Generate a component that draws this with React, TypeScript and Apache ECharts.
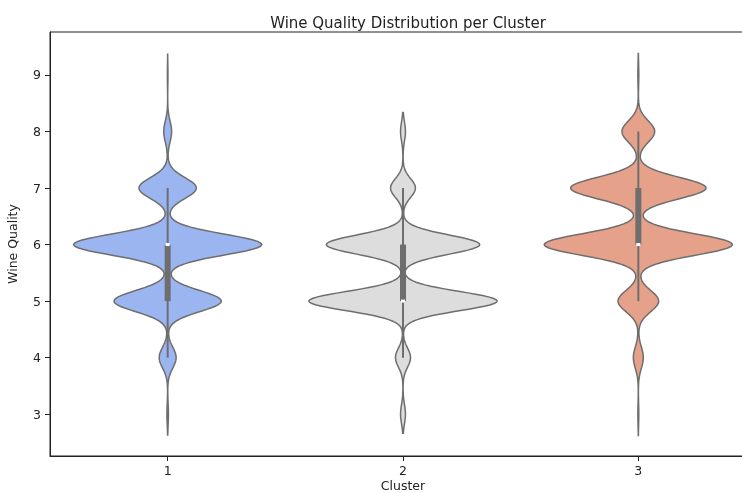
import React, { useEffect, useRef } from "react";
import * as echarts from "echarts";

// Cluster categories and wine counts per quality level (3..9)
const clusters = ["1", "2", "3"];
const qualityLevels = [3, 4, 5, 6, 7, 8, 9];
const cluster1Counts = [8, 90, 570, 1000, 305, 42, 3];
const cluster2Counts = [26, 80, 1000, 815, 132, 26, 0];
const cluster3Counts = [5, 53, 216, 1000, 720, 174, 5];
const yTickValues = [3, 4, 5, 6, 7, 8, 9];
const fillColors = ["#9bb5f0", "#dddddd", "#e5a18a"];

const countsByCluster = [cluster1Counts, cluster2Counts, cluster3Counts];
const lineGray = "#6e6e6e";
const FONT = "DejaVu Sans";

type ViolinStats = {
  grid: number[];
  density: number[];
  q1: number;
  median: number;
  q3: number;
  whiskerLo: number;
  whiskerHi: number;
};

// Percentile with linear interpolation over the expanded sample
function percentile(levels: number[], counts: number[], p: number): number {
  const n = counts.reduce((a, b) => a + b, 0);
  const pos = p * (n - 1);
  const valueAt = (i: number) => {
    let acc = 0;
    for (let k = 0; k < levels.length; k++) {
      acc += counts[k];
      if (i < acc) return levels[k];
    }
    return levels[levels.length - 1];
  };
  const lo = Math.floor(pos);
  const hi = Math.ceil(pos);
  return valueAt(lo) + (valueAt(hi) - valueAt(lo)) * (pos - lo);
}

// Gaussian KDE (Scott's rule, cut = 2) plus box statistics
function violinStats(levels: number[], counts: number[]): ViolinStats {
  const n = counts.reduce((a, b) => a + b, 0);
  const mean = levels.reduce((s, v, i) => s + v * counts[i], 0) / n;
  const variance =
    levels.reduce((s, v, i) => s + counts[i] * (v - mean) ** 2, 0) / (n - 1);
  const bw = Math.sqrt(variance) * Math.pow(n, -1 / 5);
  const present = levels.filter((_, i) => counts[i] > 0);
  const lo = Math.min(...present) - 2 * bw;
  const hi = Math.max(...present) + 2 * bw;
  const steps = 240;
  const grid: number[] = [];
  const density: number[] = [];
  for (let s = 0; s <= steps; s++) {
    const y = lo + ((hi - lo) * s) / steps;
    let d = 0;
    for (let k = 0; k < levels.length; k++) {
      const z = (y - levels[k]) / bw;
      d += counts[k] * Math.exp(-0.5 * z * z);
    }
    grid.push(y);
    density.push(d);
  }
  const q1 = percentile(levels, counts, 0.25);
  const median = percentile(levels, counts, 0.5);
  const q3 = percentile(levels, counts, 0.75);
  const iqr = q3 - q1;
  const whiskerLo = Math.min(...present.filter((v) => v >= q1 - 1.5 * iqr));
  const whiskerHi = Math.max(...present.filter((v) => v <= q3 + 1.5 * iqr));
  return { grid, density, q1, median, q3, whiskerLo, whiskerHi };
}

const stats = countsByCluster.map((c) => violinStats(qualityLevels, c));

export default function App() {
  const ref = useRef<HTMLDivElement>(null);

  useEffect(() => {
    if (!ref.current) return;
    const chart = echarts.init(ref.current, undefined, { renderer: "svg" });

    const renderItem = (params: any, api: any) => {
      const idx = params.dataIndex;
      const st = stats[idx];
      const band = api.size([1, 0])[0];
      const maxHalf = band * 0.4;
      const maxD = Math.max(...st.density);
      const cx = api.coord([idx, st.median])[0];
      const right: number[][] = [];
      const left: number[][] = [];
      st.grid.forEach((y, i) => {
        const py = api.coord([idx, y])[1];
        const hw = (st.density[i] / maxD) * maxHalf;
        right.push([cx + hw, py]);
        left.push([cx - hw, py]);
      });
      const outline = right.concat(left.reverse());
      const yLo = api.coord([idx, st.whiskerLo])[1];
      const yHi = api.coord([idx, st.whiskerHi])[1];
      const yQ1 = api.coord([idx, st.q1])[1];
      const yQ3 = api.coord([idx, st.q3])[1];
      const yMed = api.coord([idx, st.median])[1];
      return {
        type: "group",
        children: [
          {
            type: "polygon",
            shape: { points: outline },
            style: { fill: fillColors[idx], stroke: lineGray, lineWidth: 1.5 },
          },
          {
            type: "line",
            shape: { x1: cx, y1: yLo, x2: cx, y2: yHi },
            style: { stroke: lineGray, lineWidth: 2 },
          },
          {
            type: "rect",
            shape: { x: cx - 3, y: yQ3, width: 6, height: yQ1 - yQ3 },
            style: { fill: lineGray },
          },
          {
            type: "rect",
            shape: { x: cx - 2, y: yMed - 1.5, width: 4, height: 3 },
            style: { fill: "#ffffff" },
          },
        ],
      };
    };

    chart.setOption({
      animation: false,
      title: {
        text: "Wine Quality Distribution per Cluster",
        left: 403,
        textAlign: "center",
        top: 10,
        textStyle: {
          fontFamily: FONT,
          fontSize: 15,
          fontWeight: "normal",
          color: "#222",
        },
      },
      grid: {
        left: 50,
        top: 32,
        width: 706,
        height: 424,
        show: true,
        borderColor: "#222",
        borderWidth: 1,
        containLabel: false,
        outerBoundsMode: "none",
      },
      xAxis: {
        type: "category",
        data: clusters,
        boundaryGap: true,
        name: "Cluster",
        nameLocation: "middle",
        nameGap: 29,
        nameMoveOverlap: false,
        nameTextStyle: {
          fontFamily: FONT,
          fontSize: 12.5,
          color: "#222",
          verticalAlign: "middle",
        },
        axisLine: { show: true, lineStyle: { color: "#222", width: 1 } },
        axisTick: {
          show: true,
          alignWithLabel: true,
          length: 5,
          lineStyle: { color: "#222" },
        },
        axisLabel: {
          margin: 8,
          fontFamily: FONT,
          fontSize: 12.5,
          color: "#222",
        },
        splitLine: { show: false },
      },
      yAxis: {
        type: "value",
        min: 2.26,
        max: 9.76,
        name: "Wine Quality",
        nameLocation: "middle",
        nameRotate: 90,
        nameGap: 31,
        nameTextStyle: { fontFamily: FONT, fontSize: 12.5, color: "#222" },
        axisLine: { show: true, lineStyle: { color: "#222", width: 1 } },
        axisTick: {
          show: true,
          length: 5,
          lineStyle: { color: "#222" },
          customValues: yTickValues,
        },
        axisLabel: {
          margin: 9,
          fontFamily: FONT,
          fontSize: 12.5,
          color: "#222",
          customValues: yTickValues,
        },
        splitLine: { show: false },
      },
      series: [
        {
          type: "custom",
          renderItem,
          data: clusters.map((_, i) => [i]),
          encode: { x: 0 },
          clip: true,
        },
      ],
    });

    return () => chart.dispose();
  }, []);

  return (
    <div
      ref={ref}
      style={{ position: "fixed", left: 0, top: 0, width: 742, height: 493 }}
    />
  );
}
